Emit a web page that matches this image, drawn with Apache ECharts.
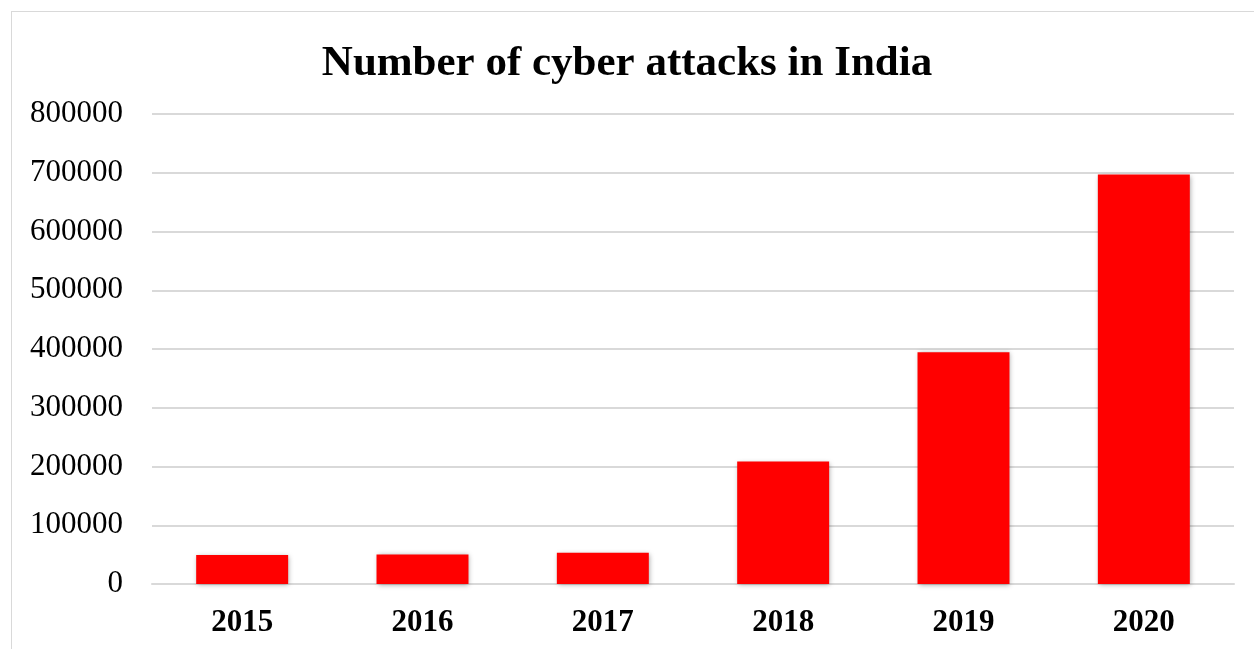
<!DOCTYPE html>
<html>
<head>
<meta charset="utf-8">
<script src="https://cdn.jsdelivr.net/npm/echarts@6/dist/echarts.min.js"></script>
<style>
  html, body { margin: 0; padding: 0; background: #fff; }
  #frame { position: absolute; left: 11px; top: 11px; width: 1260px; height: 700px; border: 1px solid #d9d9d9; box-sizing: border-box; }
  #chart { position: absolute; left: 0; top: 0; width: 1254px; height: 649px; }
</style>
</head>
<body>
<div id="frame"></div>
<div id="chart"></div>
<script>
const titleText = 'Number of cyber attacks in India';
const categories = ['2015', '2016', '2017', '2018', '2019', '2020'];
const attacks = [49455, 50362, 53117, 208456, 394499, 696938];
const yMin = 0;
const yMax = 800000;
const yStep = 100000;

const chart = echarts.init(document.getElementById('chart'), null, { renderer: 'canvas' });
chart.setOption({
  animation: false,
  backgroundColor: 'transparent',
  title: {
    text: titleText,
    left: 'center',
    top: 37,
    textStyle: { fontFamily: 'Liberation Serif', fontWeight: 'bold', fontSize: 43, color: '#000' }
  },
  grid: { left: 152, right: 20, top: 114, bottom: 65, containLabel: false },
  xAxis: {
    type: 'category',
    data: categories,
    axisLine: { show: true, lineStyle: { color: '#d9d9d9', width: 2 } },
    axisTick: { show: false },
    axisLabel: { margin: 23, fontFamily: 'Liberation Serif', fontWeight: 'bold', fontSize: 31, color: '#000' }
  },
  yAxis: {
    type: 'value',
    min: yMin,
    max: yMax,
    interval: yStep,
    axisLine: { show: false },
    axisTick: { show: false },
    splitLine: { lineStyle: { color: '#d9d9d9', width: 2 } },
    axisLabel: { margin: 29, fontFamily: 'Liberation Serif', fontSize: 31, color: '#000', formatter: (v) => String(v) }
  },
  series: [{
    type: 'bar',
    data: attacks,
    barWidth: '51%',
    itemStyle: {
      color: '#ff0000',
      shadowBlur: 5,
      shadowColor: 'rgba(0,0,0,0.35)',
      shadowOffsetX: 1,
      shadowOffsetY: 1
    }
  }]
});
</script>
</body>
</html>
